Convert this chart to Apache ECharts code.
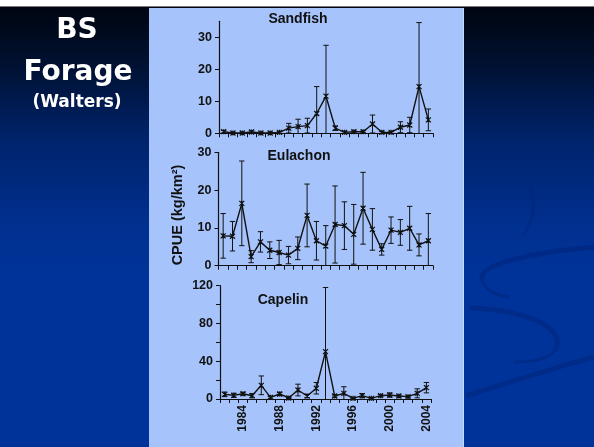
<!DOCTYPE html>
<html>
<head>
<meta charset="utf-8">
<script src="https://cdn.jsdelivr.net/npm/echarts@6/dist/echarts.min.js"></script>
<style>
  html, body { margin: 0; padding: 0; background: #ffffff; }
  #chart { width: 594px; height: 447px; }
</style>
</head>
<body>
<div id="chart"></div>
<script>
// Survey years (one point per year)
const years = ['1982','1983','1984','1985','1986','1987','1988','1989','1990','1991','1992','1993',
               '1994','1995','1996','1997','1998','1999','2000','2001','2002','2003','2004'];

// Mean CPUE (kg/km²) and the +/- error for each species
const sandfish    = [0.5, 0.1, 0.1, 0.4, 0.1, 0.1, 0.3, 1.6, 2.1, 2.4, 6.2, 11.6, 1.6, 0.3, 0.5, 0.5, 2.9, 0.3, 0.3, 1.9, 2.6, 14.6, 4.2];
const sandfishErr = [0.4, 0.2, 0.2, 0.4, 0.2, 0.2, 0.3, 1.5, 2.3, 2.3, 8.4, 15.9, 0.7, 0.3, 0.3, 0.3, 2.8, 0.3, 0.3, 1.7, 2.4, 20.0, 3.4];

const eulachon    = [7.9, 7.8, 16.5, 2.4, 6.3, 4.1, 3.5, 2.8, 4.6, 13.3, 6.6, 5.2, 10.9, 10.6, 8.3, 15.2, 9.6, 4.3, 9.4, 8.8, 9.9, 5.5, 6.6];
const eulachonErr = [5.9, 3.9, 11.2, 1.6, 2.7, 2.2, 3.2, 2.3, 3.0, 8.3, 5.1, 5.4, 10.2, 6.3, 7.9, 9.5, 5.5, 1.5, 3.5, 3.4, 5.8, 2.9, 7.2];

const capelin     = [4.9, 3.9, 5.6, 3.5, 14.5, 1.8, 5.3, 1.1, 9.5, 3.2, 11.4, 50.1, 3.2, 6.0, 0.7, 3.5, 0.7, 3.5, 4.2, 3.2, 2.5, 6.0, 12.0];
const capelinErr  = [2.4, 2.2, 1.2, 2.2, 9.9, 1.0, 1.8, 0.6, 6.2, 1.7, 6.1, 68.0, 1.0, 7.0, 0.5, 2.2, 0.5, 1.1, 2.2, 0.8, 0.7, 4.8, 5.5];

// Y axis tick labels per panel
const sandfishTicks = [0, 10, 20, 30];
const eulachonTicks = [0, 10, 20, 30];
const capelinTicks  = [0, 40, 80, 120];
const yearLabels    = ['1984', '1988', '1992', '1996', '2000', '2004'];

const INK = '#111111';
const FONT = '"Liberation Sans", Arial, sans-serif';
const HEAD = '"DejaVu Sans", Verdana, sans-serif';
const STAR = 'path://M0,0L10,10M10,0L0,10M5,0L5,10';

const chart = echarts.init(document.getElementById('chart'), null, { renderer: 'canvas' });

function withErr(vals, errs) {
  return vals.map((v, i) => [i, v, errs[i]]);
}

// Vertical error bar with small caps; clipped at the axis floor
function errorBar(params, api) {
  const i = api.value(0), v = api.value(1), e = api.value(2);
  const hiVal = v + e;
  const loVal = v - e;
  const floorClamped = loVal < 0;
  const hi = api.coord([i, hiVal]);
  const lo = api.coord([i, floorClamped ? 0 : loVal]);
  const w = 2.7;
  const style = { stroke: INK, lineWidth: 1 };
  const kids = [
    { type: 'line', shape: { x1: hi[0], y1: hi[1], x2: lo[0], y2: lo[1] }, style },
    { type: 'line', shape: { x1: hi[0] - w, y1: hi[1], x2: hi[0] + w, y2: hi[1] }, style }
  ];
  if (!floorClamped) {
    kids.push({ type: 'line', shape: { x1: lo[0] - w, y1: lo[1], x2: lo[0] + w, y2: lo[1] }, style });
  }
  return { type: 'group', children: kids };
}

const grids = [
  { left: 219, width: 214, top: 21.3, height: 112 },
  { left: 218.5, width: 214.5, top: 152.3, height: 113.4 },
  { left: 220, width: 211, top: 285.7, height: 113.3 }
];

function xAxisFor(gi, showLabels) {
  return {
    type: 'category', gridIndex: gi, data: years, boundaryGap: true,
    axisLine: { show: true, lineStyle: { color: INK, width: 1.2 } },
    axisTick: { show: true, interval: 0, length: 4, inside: false, lineStyle: { color: INK, width: 1 } },
    axisLabel: showLabels ? {
      show: true, rotate: 90, margin: 6,
      interval: 0,
      formatter: (val) => yearLabels.indexOf(val) >= 0 ? val : '',
      color: INK, fontFamily: FONT, fontWeight: 'bold', fontSize: 12
    } : { show: false },
    splitLine: { show: false }
  };
}

function yAxisFor(gi, max, interval, ticks, minor) {
  return {
    type: 'value', gridIndex: gi, min: 0, max: max, interval: interval,
    axisLine: { show: true, lineStyle: { color: INK, width: 1.2 } },
    axisTick: { show: true, length: 4, customValues: ticks, lineStyle: { color: INK } },
    minorTick: minor ? { show: true, splitNumber: 2, length: 4, lineStyle: { color: INK } } : { show: false },
    axisLabel: {
      customValues: ticks, margin: 7,
      color: INK, fontFamily: FONT, fontWeight: 'bold', fontSize: 12.5
    },
    splitLine: { show: false }
  };
}

function lineSeries(gi, vals) {
  return {
    type: 'line', xAxisIndex: gi, yAxisIndex: gi, data: vals,
    symbol: STAR, symbolSize: 5, showSymbol: true,
    lineStyle: { color: INK, width: 1.4 },
    itemStyle: { color: INK, borderColor: INK, borderWidth: 1.2 },
    z: 3, silent: true
  };
}

function barSeries(gi, vals, errs) {
  return {
    type: 'custom', xAxisIndex: gi, yAxisIndex: gi,
    data: withErr(vals, errs), renderItem: errorBar, clip: true, z: 2, silent: true
  };
}

const SWIRL = 'rgba(0, 30, 110, 0.35)';

// Slide background, chart panel and headings
const graphics = [
  { type: 'rect', shape: { x: 0, y: 0, width: 594, height: 447 }, style: { fill: '#ffffff' }, z: -10 },
  {
    type: 'rect', shape: { x: 0, y: 7, width: 594, height: 440 }, z: -9,
    style: {
      fill: new echarts.graphic.LinearGradient(0, 0, 0, 1, [
        { offset: 0, color: '#000510' },
        { offset: 0.12, color: '#00102e' },
        { offset: 0.3, color: '#00236b' },
        { offset: 0.5, color: '#003090' },
        { offset: 0.62, color: '#003399' },
        { offset: 1, color: '#003399' }
      ])
    }
  },
  { type: 'line', shape: { x1: 0, y1: 6.5, x2: 594, y2: 6.5 }, style: { stroke: '#777777', lineWidth: 1 }, z: -8 },
  // faint swirls in the slide design
  { type: 'bezierCurve', shape: { x1: 530, y1: 185, cpx1: 536, cpy1: 205, cpx2: 534, cpy2: 222, x2: 522, y2: 236 },
    style: { stroke: 'rgba(0, 30, 110, 0.25)', lineWidth: 3, fill: 'none' }, z: -8 },
  { type: 'bezierCurve', shape: { x1: 594, y1: 247, cpx1: 540, cpy1: 252, cpx2: 478, cpy2: 262, x2: 482, y2: 280 },
    style: { stroke: SWIRL, lineWidth: 5, fill: 'none' }, z: -8 },
  { type: 'bezierCurve', shape: { x1: 482, y1: 280, cpx1: 485, cpy1: 292, cpx2: 500, cpy2: 296, x2: 510, y2: 297 },
    style: { stroke: SWIRL, lineWidth: 3, fill: 'none' }, z: -8 },
  { type: 'bezierCurve', shape: { x1: 470, y1: 308, cpx1: 520, cpy1: 310, cpx2: 568, cpy2: 325, x2: 555, y2: 350 },
    style: { stroke: SWIRL, lineWidth: 5, fill: 'none' }, z: -8 },
  { type: 'bezierCurve', shape: { x1: 555, y1: 350, cpx1: 548, cpy1: 360, cpx2: 530, cpy2: 362, x2: 515, y2: 362 },
    style: { stroke: SWIRL, lineWidth: 3, fill: 'none' }, z: -8 },
  { type: 'bezierCurve', shape: { x1: 466, y1: 396, cpx1: 510, cpy1: 382, cpx2: 555, cpy2: 368, x2: 594, y2: 357 },
    style: { stroke: SWIRL, lineWidth: 5, fill: 'none' }, z: -8 },
  { type: 'rect', shape: { x: 149, y: 8, width: 315, height: 439 }, style: { fill: '#a6c4fb' }, z: -7 },
  { type: 'line', shape: { x1: 463.5, y1: 8, x2: 463.5, y2: 447 }, style: { stroke: '#c4d8fd', lineWidth: 1 }, z: -6 },
  { type: 'text', style: { text: 'BS', x: 77, y: 17, textAlign: 'center', fill: '#ffffff', font: 'bold 28px ' + HEAD }, z: 5 },
  { type: 'text', style: { text: 'Forage', x: 78, y: 59, textAlign: 'center', fill: '#ffffff', font: 'bold 28px ' + HEAD }, z: 5 },
  { type: 'text', style: { text: '(Walters)', x: 77, y: 94, textAlign: 'center', fill: '#ffffff', font: 'bold 17px ' + HEAD }, z: 5 },
  { type: 'text', style: { text: 'Sandfish', x: 298, y: 12, textAlign: 'center', fill: INK, font: 'bold 14px ' + FONT }, z: 5 },
  { type: 'text', style: { text: 'Eulachon', x: 299, y: 149, textAlign: 'center', fill: INK, font: 'bold 14px ' + FONT }, z: 5 },
  { type: 'text', style: { text: 'Capelin', x: 283, y: 293.5, textAlign: 'center', fill: INK, font: 'bold 14px ' + FONT }, z: 5 },
  { type: 'text', x: 178, y: 215, rotation: Math.PI / 2,
    style: { text: 'CPUE (kg/km²)', x: 0, y: 0, textAlign: 'center', textVerticalAlign: 'middle', fill: INK, font: 'bold 14.5px ' + FONT }, z: 5 }
];

chart.setOption({
  animation: false,
  backgroundColor: 'transparent',
  graphic: graphics,
  grid: grids,
  xAxis: [xAxisFor(0, false), xAxisFor(1, false), xAxisFor(2, true)],
  yAxis: [
    yAxisFor(0, 35, 10, sandfishTicks, false),
    yAxisFor(1, 30, 10, eulachonTicks, false),
    yAxisFor(2, 120, 40, capelinTicks, true)
  ],
  series: [
    barSeries(0, sandfish, sandfishErr), lineSeries(0, sandfish),
    barSeries(1, eulachon, eulachonErr), lineSeries(1, eulachon),
    barSeries(2, capelin, capelinErr), lineSeries(2, capelin)
  ]
});
</script>
</body>
</html>
